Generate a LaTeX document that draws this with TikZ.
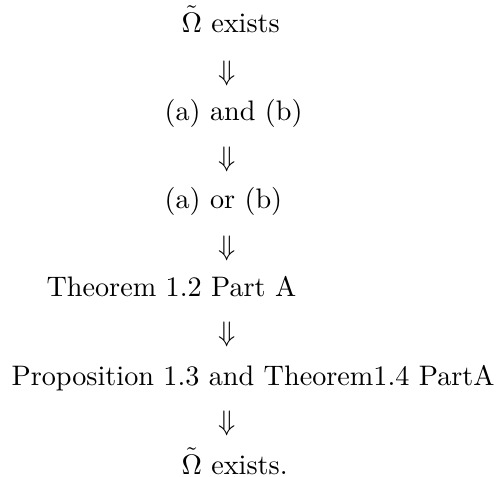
\documentclass[tikz,border=0pt]{standalone}
\usepackage{amsmath}
\usepackage{tikz}
\tikzset{
  stmt/.style={inner sep=0pt,anchor=base west},
  impl/.style={inner sep=0pt,anchor=base}
}

\begin{document}
\begin{tikzpicture}[x=0.3546pt,y=-0.3546pt]
  \useasboundingbox (0,0) rectangle (499,476);
  \node[stmt] (omega)  at (181,32)  {$\tilde{\Omega}$ exists};
  \node[impl] (d1)     at (227,80)  {$\Downarrow$};
  \node[stmt] (aandb)  at (164,120) {(a) and (b)};
  \node[impl] (d2)     at (227,166) {$\Downarrow$};
  \node[stmt] (aorb)   at (164,208) {(a) or (b)};
  \node[impl] (d3)     at (227,255) {$\Downarrow$};
  \node[stmt] (thmA)   at (46,296)  {Theorem 1.2 Part A};
  \node[impl] (d4)     at (227,341) {$\Downarrow$};
  \node[stmt] (prop)   at (11,385)  {Proposition 1.3 and Theorem1.4 PartA};
  \node[impl] (d5)     at (227,430) {$\Downarrow$};
  \node[stmt] (omega2) at (181,474) {$\tilde{\Omega}$ exists.};
\end{tikzpicture}
\end{document}
